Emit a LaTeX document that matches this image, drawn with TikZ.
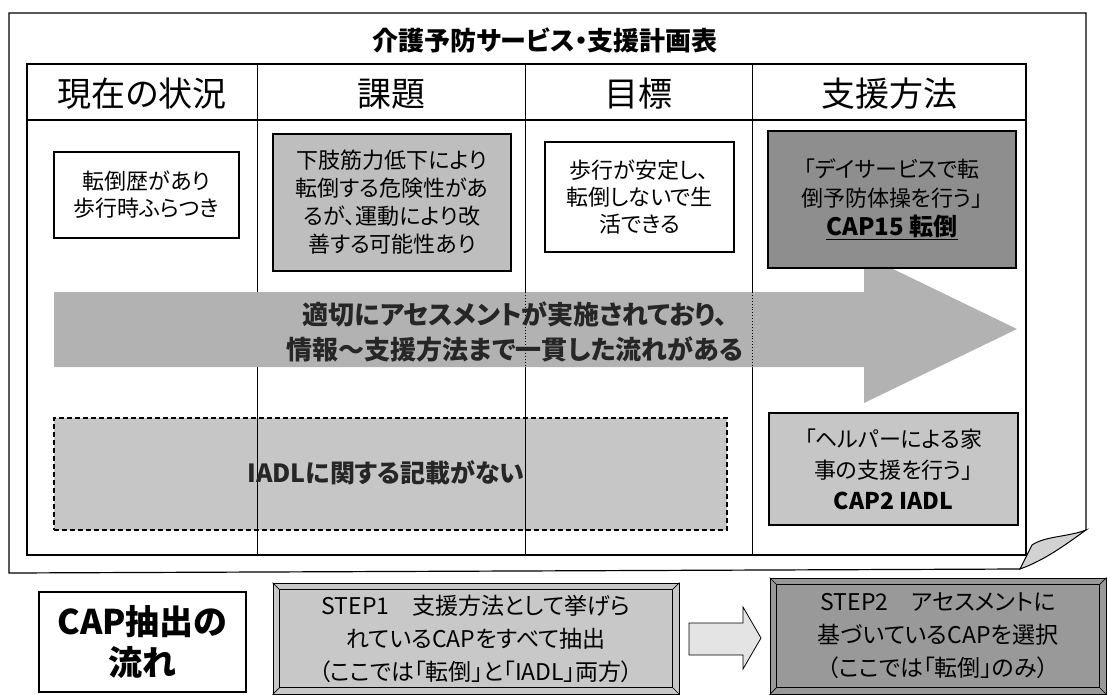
\documentclass[tikz,border=0pt]{standalone}
\usepackage{fontspec}
\setmainfont[RawFeature=+palt]{Noto Sans CJK JP}
\usetikzlibrary{calc}
\definecolor{gA}{HTML}{BEBEBE}
\definecolor{gB}{HTML}{8E8E8E}
\definecolor{gArrow}{HTML}{B2B2B2}
\definecolor{gC}{HTML}{C6C6C6}
\definecolor{gStepA}{HTML}{C8C8C8}
\definecolor{gStepB}{HTML}{999999}
\definecolor{gSmall}{HTML}{E4E4E4}
\definecolor{gFlap}{HTML}{D2D2D2}
\begin{document}
\begin{tikzpicture}[x=1pt,y=-1pt,
  box/.style={draw=black, line width=1.1pt, align=center, inner sep=0pt},
  hdr/.style={inner sep=0pt, font=\fontsize{34}{40}\selectfont},
  bodytxt/.style={font=\fontsize{22}{28}\selectfont},
  bev/.style={draw=black, line width=1pt, inner sep=0pt, align=center},
  bevline/.style={line width=0.7pt}
]
\useasboundingbox (0,0) rectangle (1108,694);
\fill[white] (0,0) rectangle (1108,694);

% outer sheet with curled corner
\draw[line width=1.2pt] (1020,569) -- (9,573) -- (9,13) -- (1086,13) -- (1086,530);
\draw[line width=1pt, fill=gFlap] (1020,569) -- (1032,545)
   .. controls (1045,536) and (1068,537) .. (1086,530)
   .. controls (1065,545) and (1045,560) .. (1020,569) -- cycle;

% title
\node[inner sep=0pt, font=\bfseries\fontsize{26}{30}\selectfont] (title) at (545,40) {介護予防サービス・支援計画表};

% dashed gray band (drawn first, column lines show through it)
\node[draw=black, dash pattern=on 5pt off 3pt, line width=1.1pt, fill=gC, minimum width=673pt, minimum height=112pt, inner sep=0pt] (dbox) at (390.5,474) {};

% table
\draw[line width=1pt] (257,64) -- (257,555);
\draw[line width=1pt] (525,64) -- (525,555);
\draw[line width=1pt] (752,64) -- (752,555);
\draw[line width=1.6pt] (27,120) -- (1026,120);
\draw[line width=2.6pt] (27,64) rectangle (1026,555);

% headers
\node[hdr] (h1) at (142,94) {現在の状況};
\node[hdr] (h2) at (391,94) {課題};
\node[hdr] (h3) at (638,94) {目標};
\node[hdr] (h4) at (889,94) {支援方法};

% big arrow
\fill[gArrow] (54,292) -- (864,292) -- (864,255) -- (1017,329) -- (864,403) -- (864,367) -- (54,367) -- cycle;
\draw[dotted, line width=0.9pt] (525,292) -- (525,367);
\draw[dotted, line width=0.9pt] (752,292) -- (752,367);
\node[inner sep=0pt, align=center, font=\bfseries\fontsize{26}{35}\selectfont, text=black!85] (flow) at (515,332)
  {適切にアセスメントが実施されており、\\情報～支援方法まで一貫した流れがある};

% text of dashed band
\node[inner sep=0pt, font=\bfseries\fontsize{25}{30}\selectfont, text=black!85] (dtxt) at (386,473) {IADLに関する記載がない};

% boxes in the table
\node[box, fill=white, font=\fontsize{22}{27}\selectfont, minimum width=185pt, minimum height=86pt] (b1) at (146.5,195)
  {転倒歴があり\\歩行時ふらつき};
\node[box, fill=gA, bodytxt, minimum width=238pt, minimum height=137pt] (b2) at (392,202.5)
  {下肢筋力低下により\\転倒する危険性があ\\るが、運動により改\\善する可能性あり};
\node[box, fill=white, font=\fontsize{22}{27}\selectfont, minimum width=189pt, minimum height=110pt] (b3) at (639.5,197)
  {歩行が安定し、\\転倒しないで生\\活できる};
\node[box, fill=gB, font=\fontsize{22}{29}\selectfont, minimum width=248pt, minimum height=137pt] (b4) at (892,199.5)
  {「デイサービスで転\\倒予防体操を行う」\\{\bfseries\fontsize{24}{29}\selectfont\underline{CAP15 転倒}}};
\node[box, fill=gC, font=\fontsize{22}{31}\selectfont, minimum width=249pt, minimum height=112pt] (b5) at (893.5,469)
  {「ヘルパーによる家\\事の支援を行う」\\{\bfseries\fontsize{23}{31}\selectfont CAP2 IADL}};

% bottom: CAP extraction flow
\node[box, fill=white, font=\bfseries\fontsize{34}{41}\selectfont, minimum width=207pt, minimum height=100pt] (cap) at (142.5,642)
  {CAP抽出の\\流れ};

\node[bev, fill=gStepA, minimum width=406pt, minimum height=111pt, font=\fontsize{23}{33}\selectfont] (s1) at (476,638.5)
  {STEP1　支援方法として挙げら\\れているCAPをすべて抽出\\（ここでは「転倒」と「IADL」両方）};
\draw[bevline] ($(s1.north west)+(7,7)$) rectangle ($(s1.south east)+(-7,-7)$);
\draw[bevline] (s1.north west) -- ++(7,7);
\draw[bevline] (s1.north east) -- ++(-7,7);
\draw[bevline] (s1.south west) -- ++(7,-7);
\draw[bevline] (s1.south east) -- ++(-7,-7);

\node[bev, fill=gStepB, minimum width=336pt, minimum height=116pt, font=\fontsize{23}{33}\selectfont] (s2) at (938,636)
  {STEP2　アセスメントに\\基づいているCAPを選択\\（ここでは「転倒」のみ）};
\draw[bevline] ($(s2.north west)+(7,7)$) rectangle ($(s2.south east)+(-7,-7)$);
\draw[bevline] (s2.north west) -- ++(7,7);
\draw[bevline] (s2.north east) -- ++(-7,7);
\draw[bevline] (s2.south west) -- ++(7,-7);
\draw[bevline] (s2.south east) -- ++(-7,-7);

% small block arrow from STEP1 to STEP2
\draw[line width=0.8pt, fill=gSmall] (689,623) -- (743,623) -- (743,607) -- (761,638) -- (743,669) -- (743,655) -- (689,655) -- cycle;
\end{tikzpicture}
\end{document}
